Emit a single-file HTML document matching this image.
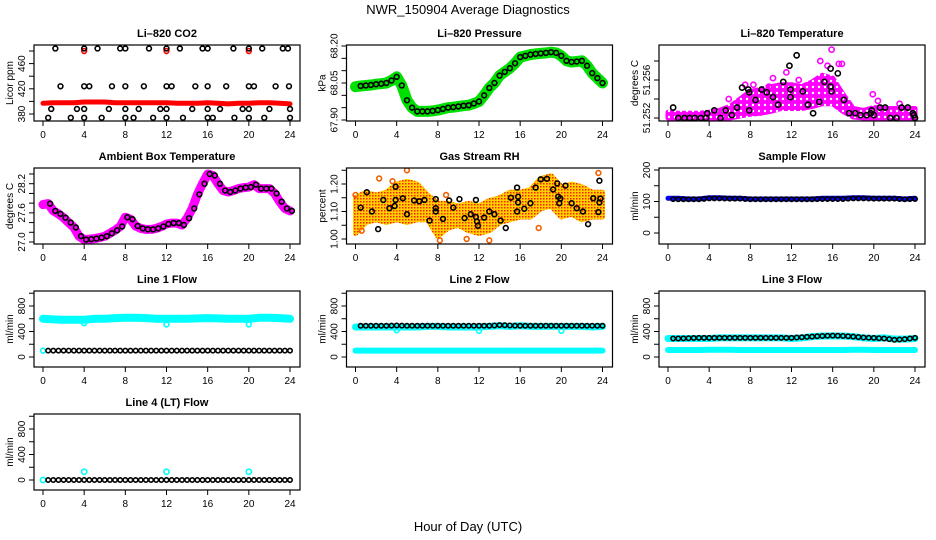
<!DOCTYPE html>
<html><head><meta charset="utf-8"><style>
html,body{margin:0;padding:0;background:#fff;}
svg{display:block;font-family:"Liberation Sans",sans-serif;}
</style></head><body>
<svg id="chart" width="936" height="540" viewBox="0 0 936 540">
<defs><pattern id="rhpat" width="3" height="3" patternUnits="userSpaceOnUse"><rect width="3" height="3" fill="#ffd000"/><rect width="1.5" height="1.5" fill="#ff2000"/></pattern>
<pattern id="tpat" width="6" height="6" patternUnits="userSpaceOnUse"><rect width="6" height="6" fill="#ff00ff"/><circle cx="3" cy="3" r="1.2" fill="#fff"/></pattern></defs>
<text x="468" y="14" text-anchor="middle" font-size="13">NWR_150904  Average Diagnostics</text>
<text x="468" y="531" text-anchor="middle" font-size="13">Hour of Day (UTC)</text>
</svg>
<script>
// ---- data ----
const hourTicks=[0,4,8,12,16,20,24];
const halfHours=[0,0.5,1,1.5,2,2.5,3,3.5,4,4.5,5,5.5,6,6.5,7,7.5,8,8.5,9,9.5,10,10.5,11,11.5,12,12.5,13,13.5,14,14.5,15,15.5,16,16.5,17,17.5,18,18.5,19,19.5,20,20.5,21,21.5,22,22.5,23,23.5,24];
const hours=[0,1,2,3,4,5,6,7,8,9,10,11,12,13,14,15,16,17,18,19,20,21,22,23,24];
// CO2
const co2Red=[397,398,398,398,399,399,399,398,398,398,398,398,398,397,397,397,398,397,396,397,397,398,398,397,396];
const co2BlackH=[1.2,4,5.3,7.5,8,10.3,12,13.3,15.5,16,18.5,20,21.3,23.3,23.8, 1.7,4,4.5,6.7,8,9.8,12,12.5,14.8,16,17.8,20,20.5,22.6,23.9, 0.8,3.3,4,6.4,8,9.3,11.4,12,14.5,16,17.2,19.4,20,22,24, 0.5,2.7,4,5.7,8,8.8,10.7,12,13.6,16,16.5,18.6,20,21.5,24];
const co2BlackV=[484,484,484,484,484,484,484,484,484,484,484,484,484,484,484, 424,424,424,424,424,424,424,424,424,424,424,424,424,424,424, 388,388,388,388,388,388,388,388,388,388,388,388,388,388,388, 374,374,374,374,374,374,374,374,374,374,374,374,374,374,374];
const co2OutH=[4,12,20];
const co2OutV=[480,480,480];
// Pressure
const pressV=[68.035,68.038,68.04,68.042,68.045,68.047,68.05,68.06,68.075,68.04,67.98,67.95,67.935,67.935,67.935,67.937,67.94,67.945,67.95,67.952,67.955,67.958,67.96,67.967,67.975,68.0,68.03,68.05,68.08,68.095,68.11,68.13,68.155,68.16,68.165,68.168,68.17,68.172,68.175,68.172,68.16,68.14,68.135,68.137,68.14,68.12,68.09,68.07,68.05];
// Li-820 temperature
const tBandLo=[51.2520,51.2520,51.2520,51.2520,51.2520,51.2520,51.2520,51.2522,51.2524,51.2525,51.2527,51.2530,51.2530,51.2530,51.2532,51.2535,51.2535,51.2527,51.2521,51.2520,51.2520,51.2520,51.2520,51.2520,51.2520];
const tBandHi=[51.2526,51.2525,51.2525,51.2525,51.2526,51.2528,51.2532,51.2540,51.2548,51.2550,51.2553,51.2555,51.2555,51.2553,51.2558,51.2565,51.2562,51.2545,51.2530,51.2528,51.2531,51.2530,51.2530,51.2530,51.2530];
const tMagH=[8.3,10.2,11.5,14.8,15.5,15.9,16.6,16.9,19.9,12.7,5.9,7.5,9.8,20.4,22.5];
const tMagV=[51.2555,51.2562,51.2568,51.2580,51.2575,51.2592,51.2577,51.2577,51.2545,51.2560,51.2540,51.2555,51.2553,51.2538,51.2535];
const tBlkH=[0.5,1.0,1.6,2.1,2.6,3.2,3.7,3.8,4.5,5.1,5.6,6.2,6.7,7.2,7.8,7.9,7.9,8.5,9.1,9.6,10.2,10.7,11.2,11.8,11.9,11.9,12.5,13.1,13.6,14.1,14.7,15.2,15.8,15.8,15.9,16.5,17.1,17.6,18.2,18.7,19.3,19.7,19.8,20.0,20.6,21.1,21.6,22.2,22.7,23.3,23.8,23.9,24.0];
const tBlkV=[51.2531,51.2520,51.2520,51.2520,51.2520,51.2520,51.2520,51.2525,51.2528,51.2520,51.2528,51.2523,51.2531,51.2552,51.2550,51.2547,51.2528,51.2539,51.2550,51.2547,51.2542,51.2534,51.2558,51.2575,51.2550,51.2542,51.2586,51.2548,51.2534,51.2525,51.2537,51.2558,51.2572,51.2553,51.2548,51.2567,51.2539,51.2525,51.2525,51.2523,51.2523,51.2525,51.2528,51.2523,51.2531,51.2531,51.2520,51.2520,51.2531,51.2531,51.2525,51.2523,51.2520];
// Ambient
const ambV=[27.77,27.79,27.64,27.58,27.50,27.40,27.30,27.12,27.05,27.06,27.07,27.09,27.12,27.18,27.24,27.32,27.51,27.47,27.33,27.28,27.26,27.26,27.28,27.32,27.37,27.39,27.39,27.35,27.49,27.69,27.98,28.2,28.4,28.37,28.2,28.06,28.03,28.06,28.1,28.12,28.13,28.18,28.1,28.1,28.1,28.0,27.83,27.69,27.64];
// Gas stream RH
const rhLo=[1.02,1.06,1.07,1.06,1.07,1.06,1.07,1.07,1.01,1.04,1.05,1.03,1.02,1.03,1.06,1.07,1.08,1.08,1.11,1.12,1.08,1.09,1.07,1.08,1.08];
const rhHi=[1.15,1.17,1.16,1.17,1.20,1.21,1.20,1.16,1.13,1.13,1.12,1.13,1.12,1.14,1.15,1.17,1.17,1.18,1.22,1.23,1.19,1.20,1.19,1.17,1.17];
const rhOutH=[0.0,2.3,5.0,8.8,8.2,10.8,13.0,17.8,23.6,3.6,0.6];
const rhOutV=[1.16,1.22,1.25,1.16,0.995,1.0,0.995,1.04,1.24,1.21,1.03];
const rhBlkH=[0.5,1.1,1.6,2.2,2.7,3.3,3.8,3.9,3.9,4.6,5.0,5.7,6.2,6.7,7.2,7.8,7.8,7.8,8.5,9.1,9.5,10.1,10.6,11.2,11.7,11.7,11.8,11.9,12.5,13.0,13.5,14.1,14.6,15.1,15.7,15.7,15.8,15.8,16.4,17.0,17.5,18.0,18.6,19.2,19.6,19.7,19.8,19.9,20.4,21.0,21.5,22.1,22.6,23.1,23.6,23.7,23.7,23.8];
const rhBlkV=[1.114,1.17,1.10,1.036,1.142,1.112,1.12,1.19,1.142,1.148,1.09,1.14,1.137,1.142,1.067,1.145,1.112,1.10,1.073,1.14,1.114,1.145,1.076,1.09,1.142,1.08,1.064,1.048,1.078,1.10,1.09,1.067,1.04,1.15,1.10,1.187,1.154,1.133,1.11,1.13,1.187,1.217,1.219,1.18,1.202,1.154,1.13,1.147,1.194,1.13,1.112,1.10,1.054,1.148,1.098,1.133,1.212,1.147];
// Flows
const sampBlue=[110,110,108,108,112,112,110,110,108,108,108,108,108,108,108,110,110,110,112,112,110,110,110,108,110];
const sampBlack=[108,107,107,107,110,110,109,109,107,107,107,107,107,107,107,108,108,108,110,110,109,109,109,107,108];
const l1Cyan=[600,590,585,585,585,600,600,610,615,615,610,600,600,600,600,605,610,605,600,600,600,615,615,610,600];
const l1Black=[100,100,100,100,100,100,100,100,100,100,100,100,100,100,100,100,100,100,100,100,100,100,100,100,100];
const l1DipH=[4,12,20];
const l1DipV=[530,510,510];
const l2Cyan=[470,470,470,470,470,470,470,480,480,470,470,470,470,480,490,480,490,480,480,480,480,480,480,470,480];
const l2Black=[490,490,490,490,495,490,490,490,490,490,490,490,490,490,500,495,490,490,490,490,490,490,490,490,490];
const l2Low=[100,100,100,100,100,100,100,100,100,100,100,100,100,100,100,100,100,100,100,100,100,100,100,100,100];
const l2DipH=[4,12,20];
const l2DipV=[420,410,410];
const l3Cyan=[290,290,290,290,290,300,300,300,300,300,300,300,290,300,320,330,330,330,320,300,290,300,280,280,290];
const l3Black=[290,290,295,300,300,300,300,300,300,300,300,300,300,310,320,330,335,330,320,305,300,290,270,280,300];
const l3Low=[110,110,110,110,115,115,115,110,110,110,110,110,110,110,110,110,110,110,115,115,110,110,110,110,110];
const l4Black=[0,0,0,0,0,0,0,0,0,0,0,0,0,0,0,0,0,0,0,0,0,0,0,0,0];
const l4OutH=[0,4,12,20];
const l4OutV=[0,130,130,130];

// ---- drawing ----
const svg=document.getElementById('chart');
const NS='http://www.w3.org/2000/svg';
function mk(tag,attrs,parent){const e=document.createElementNS(NS,tag);for(const k in attrs)e.setAttribute(k,attrs[k]);(parent||svg).appendChild(e);return e;}
function interp(arr,h){const i=Math.min(23,Math.floor(h));const f=h-i;return arr[i]*(1-f)+arr[i+1]*f;}

function panel(cfg){
  const col=cfg.col,row=cfg.row;
  const x0=43+312.5*col, T=45+123*row, B=T+76, L=x0-9, R=x0+257;
  const g=mk('g',{});
  
  
  const xs=h=>x0+h*247/24;
  const ys=v=>T+cfg.p1+(v-cfg.v1)*(cfg.p2-cfg.p1)/(cfg.v2-cfg.v1);
  const clip='c'+col+row;
  const cp=mk('clipPath',{id:clip},g);mk('rect',{x:L,y:T,width:R-L,height:B-T},cp);
  const plot=mk('g',{'clip-path':'url(#'+clip+')'},g);
  
  
  cfg.draw({plot,xs,ys});
  const box=mk('rect',{x:L,y:T,width:R-L,height:B-T,fill:'none',stroke:'#000','stroke-width':1.2},g);
  
  
  const t=mk('text',{x:(L+R)/2,y:T-8,'text-anchor':'middle','font-size':11,'font-weight':'bold'},g);
  t.textContent=cfg.title;
  
  
  hourTicks.forEach(h=>{
    mk('line',{x1:xs(h),x2:xs(h),y1:B,y2:B+5,stroke:'#000'},g);
    const lb=mk('text',{x:xs(h),y:B+17,'text-anchor':'middle','font-size':10},g);
    lb.textContent=String(h);
    
    
  });
  cfg.ticks.forEach(v=>{
    const y=ys(v);
    mk('line',{x1:L-5,x2:L,y1:y,y2:y,stroke:'#000'},g);
  });
  cfg.labels.forEach((s,i)=>{
    const y=ys(cfg.labelVals[i]);
    const lb=mk('text',{x:0,y:0,'text-anchor':'middle','font-size':10,transform:'translate('+(L-9)+','+y+') rotate(-90)'},g);
    lb.textContent=s;
    
    
  });
  const yt=mk('text',{x:0,y:0,'text-anchor':'middle','font-size':10,transform:'translate('+(L-21)+','+((T+B)/2)+') rotate(-90)'},g);
  yt.textContent=cfg.ylab;
  
  
}
function circ(p,x,y,col,r,name){const c=mk('circle',{cx:x,cy:y,r:r||2.4,fill:'none',stroke:col,'stroke-width':1.6},p);
  
  return c;}
function band(p,xsArr,vals,xs,ys,col,w,name){
  const d=vals.map((v,i)=>(i?'L':'M')+xs(xsArr[i]).toFixed(1)+','+ys(v).toFixed(1)).join('');
  const pa=mk('path',{d,fill:'none',stroke:col,'stroke-width':w,'stroke-linejoin':'round','stroke-linecap':'round'},p);
  
  
}
function area(p,lo,hi,xs,ys,fill,name){
  let d='';hours.forEach((h,i)=>{d+=(i?'L':'M')+xs(h)+','+ys(hi[i]);});
  for(let i=hours.length-1;i>=0;i--)d+='L'+xs(hours[i])+','+ys(lo[i]);
  const pa=mk('path',{d:d+'Z',fill,stroke:fill,'stroke-width':5,'stroke-linejoin':'round'},p);
  
  
}

panel({col:0,row:0,name:'co2-panel',title:'Li\u2013820 CO2',ylab:'Licor ppm',v1:380,p1:69,v2:480,p2:6,
  ticks:[380,400,420,440,460,480],labels:['380','420','460'],labelVals:[380,420,460],
  draw:({plot,xs,ys})=>{
    band(plot,hours,co2Red,xs,ys,'#f00',5,'co2-red-series');
    co2OutH.forEach((h,i)=>circ(plot,xs(h),ys(co2OutV[i]),'#f00',2.4,'co2-red-outlier'));
    co2BlackH.forEach((h,i)=>circ(plot,xs(h),ys(co2BlackV[i]),'#000',2.4,'co2-black-point'));
  }});
panel({col:1,row:0,name:'pressure-panel',title:'Li\u2013820 Pressure',ylab:'kPa',v1:67.90,p1:75,v2:68.20,p2:1,
  ticks:[67.90,67.95,68.00,68.05,68.10,68.15,68.20],labels:['67.90','68.05','68.20'],labelVals:[67.90,68.05,68.20],
  draw:({plot,xs,ys})=>{
    band(plot,halfHours,pressV,xs,ys,'#00e000',11,'pressure-green-series');
    pressV.forEach((v,i)=>{if(i>0)circ(plot,xs(halfHours[i]),ys(v),'#000',2.4,'pressure-black-point');});
  }});
panel({col:2,row:0,name:'li820-temperature-panel',title:'Li\u2013820 Temperature',ylab:'degrees C',v1:51.252,p1:73,v2:51.254,p2:54,
  ticks:[51.252,51.254,51.256,51.258],labels:['51.252','51.256'],labelVals:[51.252,51.256],
  draw:({plot,xs,ys})=>{
    area(plot,tBandLo,tBandHi,xs,ys,'url(#tpat)','temperature-magenta-cloud');
    tMagH.forEach((h,i)=>circ(plot,xs(h),ys(tMagV[i]),'#ff00ff',2.6,'temperature-magenta-point'));
    tBlkH.forEach((h,i)=>circ(plot,xs(h),ys(tBlkV[i]),'#000',2.6,'temperature-black-point'));
  }});
panel({col:0,row:1,name:'ambient-panel',title:'Ambient Box Temperature',ylab:'degrees C',v1:27.0,p1:74,v2:28.4,p2:6,
  ticks:[27.0,27.2,27.4,27.6,27.8,28.0,28.2,28.4],labels:['27.0','27.6','28.2'],labelVals:[27.0,27.6,28.2],
  draw:({plot,xs,ys})=>{
    band(plot,halfHours,ambV,xs,ys,'#ff00ff',9,'ambient-magenta-series');
    ambV.forEach((v,i)=>{if(i>0)circ(plot,xs(halfHours[i])+2,ys(v),'#000',2.4,'ambient-black-point');});
  }});
panel({col:1,row:1,name:'rh-panel',title:'Gas Stream RH',ylab:'percent',v1:1.00,p1:71,v2:1.20,p2:16,
  ticks:[1.00,1.05,1.10,1.15,1.20,1.25],labels:['1.00','1.10','1.20'],labelVals:[1.00,1.10,1.20],
  draw:({plot,xs,ys})=>{
    area(plot,rhLo,rhHi,xs,ys,'url(#rhpat)','rh-orange-cloud');
    rhOutH.forEach((h,i)=>circ(plot,xs(h),ys(rhOutV[i]),'#f06000',2.4,'rh-orange-point'));
    rhBlkH.forEach((h,i)=>circ(plot,xs(h),ys(rhBlkV[i]),'#000',2.4,'rh-black-point'));
  }});
panel({col:2,row:1,name:'sample-flow-panel',title:'Sample Flow',ylab:'ml/min',v1:0,p1:65,v2:200,p2:2,
  ticks:[0,50,100,150,200],labels:['0','100','200'],labelVals:[0,100,200],
  draw:({plot,xs,ys})=>{
    band(plot,hours,sampBlue,xs,ys,'#0000ff',5,'sample-flow-blue-series');
    halfHours.forEach(h=>{if(h>0.4)circ(plot,xs(h),ys(interp(sampBlack,h)),'#000',2.2,'sample-flow-black-point');});
  }});
const flowTicks=[0,200,400,600,800,1000];
function flowPanel(col,row,name,title,draw){
  panel({col,row,name,title,ylab:'ml/min',v1:0,p1:66,v2:800,p2:15,ticks:flowTicks,labels:['0','400','800'],labelVals:[0,400,800],draw});
}
flowPanel(0,2,'line1-flow-panel','Line 1 Flow',({plot,xs,ys})=>{
  band(plot,hours,l1Cyan,xs,ys,'#00ffff',8,'line1-cyan-series');
  circ(plot,xs(0),ys(100),'#00ffff',2.4,'line1-cyan-low');
  l1DipH.forEach((h,i)=>circ(plot,xs(h),ys(l1DipV[i]),'#00ffff',2.4,'line1-cyan-dip'));
  halfHours.forEach(h=>{if(h>0.4)circ(plot,xs(h),ys(interp(l1Black,h)),'#000',2.2,'line1-black-point');});
});
flowPanel(1,2,'line2-flow-panel','Line 2 Flow',({plot,xs,ys})=>{
  band(plot,hours,l2Cyan,xs,ys,'#00ffff',7,'line2-cyan-series');
  band(plot,hours,l2Low,xs,ys,'#00ffff',6,'line2-cyan-low-series');
  l2DipH.forEach((h,i)=>circ(plot,xs(h),ys(l2DipV[i]),'#00ffff',2.4,'line2-cyan-dip'));
  halfHours.forEach(h=>{if(h>0.4)circ(plot,xs(h),ys(interp(l2Black,h)),'#000',2.2,'line2-black-point');});
});
flowPanel(2,2,'line3-flow-panel','Line 3 Flow',({plot,xs,ys})=>{
  band(plot,hours,l3Cyan,xs,ys,'#00ffff',7,'line3-cyan-series');
  band(plot,hours,l3Low,xs,ys,'#00ffff',6,'line3-cyan-low-series');
  halfHours.forEach(h=>{if(h>0.4)circ(plot,xs(h),ys(interp(l3Black,h)),'#000',2.2,'line3-black-point');});
});
flowPanel(0,3,'line4-flow-panel','Line 4 (LT) Flow',({plot,xs,ys})=>{
  l4OutH.forEach((h,i)=>circ(plot,xs(h),ys(l4OutV[i]),'#00ffff',2.6,'line4-cyan-point'));
  halfHours.forEach(h=>{if(h>0.4)circ(plot,xs(h),ys(interp(l4Black,h)),'#000',2.2,'line4-black-point');});
});
</script>
</body></html>
